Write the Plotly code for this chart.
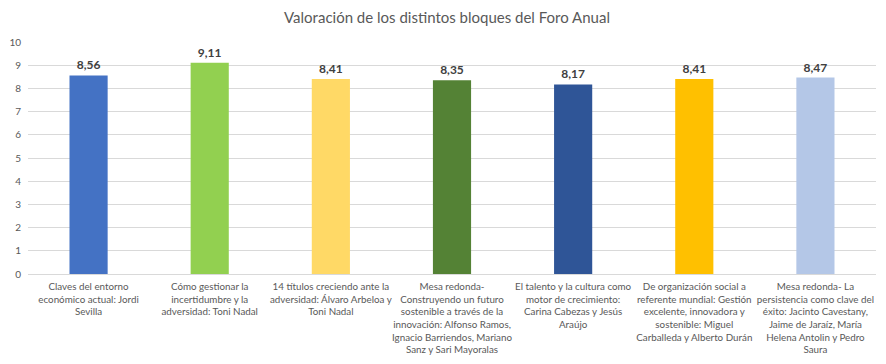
import plotly.graph_objects as go

categories = [
    "Claves del entorno<br>económico actual: Jordi<br>Sevilla",
    "Cómo gestionar la<br>incertidumbre y la<br>adversidad: Toni Nadal",
    "14 títulos creciendo ante la<br>adversidad: Álvaro Arbeloa y<br>Toni Nadal",
    "Mesa redonda-<br>Construyendo un futuro<br>sostenible a través de la<br>innovación: Alfonso Ramos,<br>Ignacio Barriendos, Mariano<br>Sanz y Sari Mayoralas",
    "El talento y la cultura como<br>motor de crecimiento:<br>Carina Cabezas y Jesús<br>Araújo",
    "De organización social a<br>referente mundial: Gestión<br>excelente, innovadora y<br>sostenible: Miguel<br>Carballeda y Alberto Durán",
    "Mesa redonda- La<br>persistencia como clave del<br>éxito: Jacinto Cavestany,<br>Jaime de Jaraíz, María<br>Helena Antolin y Pedro<br>Saura",
]
values = [8.56, 9.11, 8.41, 8.35, 8.17, 8.41, 8.47]
colors = ["#4472C4", "#92D050", "#FFD966", "#548235", "#2F5597", "#FFC000", "#B4C7E7"]
y_ticks = [0, 1, 2, 3, 4, 5, 6, 7, 8, 9, 10]

FONT = "Lato, 'Open Sans', sans-serif"

fig = go.Figure(go.Bar(
    x=categories, y=values, marker=dict(color=colors, line=dict(width=0)),
    texttemplate="%{y:.2f}", textposition="outside", cliponaxis=False,
    textfont=dict(size=12, color="#404040", family=FONT, weight="bold"),
))

# page body has an 8px default margin, so the figure is sized to fit inside
W, H = 878, 356
ml, mr, mt, mb = 20, 10, 34, 90

fig.update_layout(
    width=W, height=H, separators=",.",
    margin=dict(l=ml, r=mr, t=mt, b=mb),
    paper_bgcolor="white", plot_bgcolor="white",
    bargap=0.685,
    title=dict(text="Valoración de los distintos bloques del Foro Anual", x=0.5, xanchor="center",
               y=1 - 10 / H, yanchor="middle", font=dict(size=15, color="#595959", family=FONT)),
    font=dict(family=FONT, color="#595959", size=10),
    xaxis=dict(tickfont=dict(size=9.8, color="#595959"), showline=True, linecolor="#D9D9D9",
               ticks="", tickangle=0, fixedrange=True, automargin=False, ticklabelstandoff=3),
    yaxis=dict(range=[0, 10], tickvals=y_ticks, showgrid=True, gridcolor="#D9D9D9",
               zeroline=False, tickfont=dict(size=10, color="#595959"), ticks="",
               ticklabelstandoff=6, automargin=False),
    showlegend=False,
)

fig.write_html("out.html")
